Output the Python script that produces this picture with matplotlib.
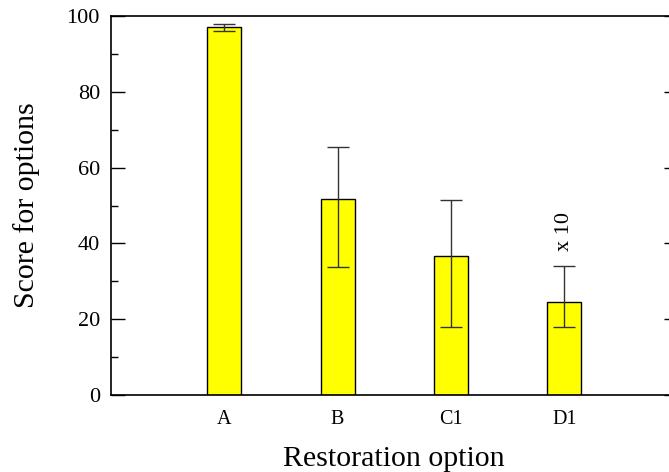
import numpy as np
import matplotlib.pyplot as plt
from matplotlib.ticker import MultipleLocator

plt.rcParams["font.family"] = ["Liberation Serif", "DejaVu Serif"]

options = ["A", "B", "C1", "D1"]
scores = [97.1, 51.7, 36.6, 24.5]
err_low = [96.1, 33.9, 17.9, 17.9]
err_high = [97.8, 65.4, 51.4, 34.0]

x = np.arange(1, len(options) + 1)
yerr = [np.array(scores) - np.array(err_low), np.array(err_high) - np.array(scores)]

fig = plt.figure(figsize=(6.69, 4.72), dpi=100)
ax = fig.add_axes([111 / 669, 77 / 472, 566.5 / 669, 379 / 472])

ax.bar(x, scores, width=0.3, color="#ffff00", edgecolor="black", linewidth=1.0, zorder=2)
ax.errorbar(x, scores, yerr=yerr, fmt="none", ecolor="#333333", elinewidth=1.0,
            capsize=8, capthick=1.0, zorder=3)

# D1 is scaled up by ten
ax.text(x[3], 38.0, "x 10", rotation=90, ha="center", va="bottom", fontsize=16)

ax.set_xlim(0, 5)
ax.set_ylim(0, 100)
ax.set_xticks(x)
ax.set_xticklabels(options)
ax.yaxis.set_major_locator(MultipleLocator(20))
ax.yaxis.set_minor_locator(MultipleLocator(10))
ax.tick_params(axis="x", length=0, labelsize=14.5, pad=11)
ax.tick_params(axis="y", which="major", direction="in", length=10, width=1,
               labelsize=16, right=True, pad=8)
ax.tick_params(axis="y", which="minor", direction="in", length=5, width=1)
ax.tick_params(axis="y", which="minor", right=False)

for side in ax.spines.values():
    side.set_linewidth(1.2)

ax.set_xlabel("Restoration option", fontsize=21.5, labelpad=12)
ax.set_ylabel("Score for options", fontsize=21.5, labelpad=19)

fig.savefig("out.png", dpi=100)
